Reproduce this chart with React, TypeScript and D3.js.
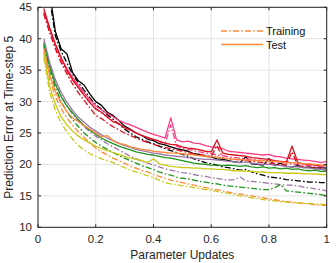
import React, { useEffect, useRef } from "react";
import * as d3 from "d3";

const xs: number[] = d3.range(1, 51).map((i) => +(i * 0.02).toFixed(2));

const seriesNames = ["black", "pink", "red", "purple", "green", "orange", "yellow"];
const seriesColors = ["#000000", "#ff3d86", "#d8101c", "#9c78a8", "#1f951f", "#ff8a3a", "#c9c817"];

const blackTest = [55, 47.5, 41.2, 38.4, 37.6, 34.6, 33.3, 32.6, 31.2, 30.0, 29.4, 28.3, 27.8, 27.0, 26.1, 25.6, 25.0, 24.6, 24.0, 23.8, 23.3, 23.1, 22.8, 22.5, 22.3, 22.1, 21.7, 21.6, 21.3, 21.2, 20.9, 20.8, 20.6, 20.4, 20.3, 21.2, 20.1, 20.0, 19.9, 20.9, 19.8, 20.2, 19.7, 19.6, 19.8, 19.5, 19.6, 19.4, 19.5, 19.4];
const blackTrain = [54, 46.5, 40.5, 38.0, 36.2, 34.3, 33.0, 31.8, 30.6, 29.5, 28.8, 27.9, 27.2, 26.4, 25.6, 25.0, 24.4, 24.0, 23.6, 23.3, 22.9, 22.5, 22.2, 21.9, 21.6, 21.3, 20.9, 20.6, 20.3, 20.1, 19.9, 19.6, 19.5, 19.3, 19.1, 19.2, 18.8, 18.5, 18.3, 18.0, 17.9, 17.8, 17.6, 17.5, 17.4, 17.3, 17.2, 17.2, 17.1, 17.1];
const pinkTest = [44.3, 41.6, 39.0, 36.9, 35.3, 33.8, 32.6, 31.4, 30.3, 29.3, 28.7, 28.1, 27.6, 27.0, 26.6, 26.3, 25.9, 25.5, 25.1, 24.8, 24.5, 24.2, 27.4, 23.9, 23.6, 23.7, 23.4, 23.3, 23.0, 22.8, 22.7, 22.5, 22.1, 22.0, 21.9, 21.8, 21.7, 21.6, 21.5, 21.6, 21.3, 21.2, 21.0, 20.9, 20.8, 20.7, 20.6, 20.5, 20.3, 20.5];
const pinkTrain = [44.0, 41.2, 38.6, 36.5, 34.9, 33.4, 32.2, 31.0, 29.9, 28.9, 28.2, 27.6, 27.0, 26.4, 25.9, 25.4, 25.0, 24.6, 24.2, 23.9, 23.6, 23.3, 26.3, 22.9, 22.6, 22.4, 22.2, 22.0, 21.8, 21.7, 21.5, 21.4, 21.2, 21.1, 21.0, 20.9, 20.8, 20.7, 20.6, 20.5, 20.4, 20.3, 20.2, 20.1, 20.0, 19.9, 19.8, 19.7, 19.6, 19.6];
const redTest = [44.8, 41.8, 39.2, 37.0, 35.0, 33.5, 32.2, 31.0, 29.8, 28.8, 28.3, 27.5, 26.8, 26.5, 25.8, 25.5, 25.0, 24.6, 24.3, 24.0, 23.7, 23.4, 23.2, 23.1, 22.8, 22.6, 22.5, 22.3, 22.1, 22.0, 23.9, 21.8, 21.6, 21.5, 21.4, 21.3, 21.1, 21.0, 20.9, 20.8, 20.6, 20.5, 20.4, 22.9, 20.3, 20.1, 20.0, 19.9, 19.8, 19.8];
const redTrain = [44.0, 41.0, 38.4, 36.2, 34.4, 32.8, 31.4, 30.2, 29.0, 27.8, 27.3, 26.6, 26.0, 25.5, 25.0, 24.6, 24.2, 23.8, 23.5, 23.2, 22.9, 22.7, 22.5, 22.3, 22.1, 21.9, 21.7, 21.6, 21.4, 21.3, 23.0, 21.0, 20.9, 20.8, 20.7, 20.6, 20.5, 20.4, 20.3, 20.2, 20.1, 20.0, 19.9, 22.0, 19.8, 19.6, 19.5, 19.4, 19.3, 19.1];
const purpleTest = [40.0, 36.3, 33.5, 31.5, 29.9, 28.6, 27.5, 26.7, 25.9, 25.3, 24.7, 24.2, 23.8, 23.4, 23.0, 22.7, 22.4, 22.2, 22.0, 21.8, 21.7, 21.5, 21.4, 21.3, 21.2, 21.1, 21.0, 20.9, 20.8, 20.8, 20.7, 20.6, 20.5, 20.4, 20.3, 20.4, 20.2, 20.1, 20.0, 20.0, 19.9, 19.8, 19.7, 19.6, 19.6, 19.5, 19.4, 19.3, 19.2, 19.1];
const purpleTrain = [39.5, 35.8, 33.0, 31.0, 29.3, 28.0, 26.9, 26.0, 25.2, 24.5, 23.9, 23.3, 22.8, 22.3, 21.8, 21.3, 20.9, 20.5, 20.2, 19.9, 19.6, 19.3, 19.1, 18.9, 18.7, 18.6, 18.4, 18.2, 18.1, 17.9, 17.8, 17.6, 17.5, 17.6, 18.0, 17.4, 17.3, 17.2, 17.1, 17.0, 16.9, 16.8, 16.7, 16.7, 16.6, 16.4, 16.3, 16.1, 16.0, 15.8];
const greenTest = [39.2, 35.6, 32.8, 30.8, 29.3, 28.2, 27.1, 26.2, 25.4, 24.8, 24.2, 23.7, 23.3, 22.9, 22.6, 22.3, 22.0, 21.8, 21.6, 21.5, 21.3, 21.1, 21.0, 20.8, 20.6, 20.4, 20.2, 20.1, 20.0, 19.9, 19.9, 19.8, 19.9, 19.8, 19.7, 19.8, 19.6, 19.5, 19.6, 19.4, 19.5, 19.3, 19.4, 19.2, 19.3, 19.1, 19.0, 19.1, 18.9, 18.9];
const greenTrain = [38.8, 35.0, 32.2, 30.0, 28.4, 27.1, 26.0, 25.0, 24.2, 23.5, 22.9, 22.4, 21.9, 21.4, 21.0, 20.6, 20.2, 19.8, 19.5, 19.2, 18.8, 18.5, 18.3, 18.0, 17.8, 17.7, 17.5, 17.3, 17.2, 17.0, 16.9, 16.7, 16.6, 16.5, 16.4, 16.3, 16.2, 16.1, 16.0, 16.0, 16.3, 16.8, 15.8, 15.7, 15.6, 15.5, 15.4, 15.3, 15.2, 15.0];
const orangeTest = [38.5, 34.3, 31.6, 29.8, 28.4, 27.4, 26.8, 26.2, 25.6, 25.0, 24.4, 24.6, 23.8, 23.3, 23.2, 22.8, 22.6, 22.4, 22.3, 22.1, 22.0, 21.9, 21.8, 21.8, 21.7, 21.6, 21.5, 21.4, 21.3, 21.2, 21.2, 21.0, 20.9, 20.8, 20.8, 20.7, 20.7, 20.6, 20.6, 20.5, 20.5, 20.4, 20.3, 20.3, 20.2, 20.1, 20.1, 20.0, 19.9, 19.9];
const orangeTrain = [38.0, 33.6, 30.8, 28.9, 27.4, 26.2, 25.2, 24.3, 23.4, 22.6, 22.0, 21.5, 21.0, 20.6, 20.2, 19.7, 19.4, 19.0, 18.8, 18.4, 18.1, 17.8, 17.5, 17.3, 17.1, 16.9, 16.7, 16.5, 16.3, 16.1, 16.0, 15.8, 15.6, 15.4, 15.3, 15.1, 15.0, 14.8, 14.7, 14.5, 14.4, 14.2, 14.1, 14.0, 13.9, 13.8, 13.7, 13.6, 13.5, 13.5];
const yellowTest = [37.6, 32.5, 29.6, 27.6, 26.3, 25.3, 24.5, 23.9, 23.4, 22.9, 22.5, 22.2, 21.9, 21.6, 21.3, 21.0, 20.8, 20.6, 20.3, 20.9, 20.1, 19.9, 19.7, 19.6, 19.5, 19.5, 19.4, 19.4, 19.3, 19.3, 19.2, 19.2, 19.1, 19.0, 19.0, 18.9, 18.9, 18.8, 18.8, 18.7, 18.7, 18.7, 18.6, 18.6, 18.6, 18.5, 18.5, 18.5, 18.4, 18.4];
const yellowTrain = [37.0, 31.6, 28.6, 26.6, 25.2, 24.0, 23.0, 22.3, 21.7, 21.3, 20.9, 20.6, 20.3, 19.9, 19.5, 19.1, 18.8, 18.5, 18.2, 17.9, 17.5, 17.1, 16.9, 16.8, 16.6, 16.5, 16.3, 16.2, 16.0, 15.9, 15.7, 15.5, 15.4, 15.2, 15.0, 14.9, 14.7, 14.6, 14.4, 14.3, 14.2, 14.1, 14.0, 13.9, 13.9, 13.8, 13.8, 13.7, 13.7, 13.6];

const trainSeries = [blackTrain, pinkTrain, redTrain, purpleTrain, greenTrain, orangeTrain, yellowTrain];
const testSeries = [blackTest, pinkTest, redTest, purpleTest, greenTest, orangeTest, yellowTest];

const xTicks = [0, 0.2, 0.4, 0.6, 0.8, 1];
const yTicks = [10, 15, 20, 25, 30, 35, 40, 45];
const legendLabels = ["Training", "Test"];

const W = 336;
const H = 263;
const M = { left: 38, right: 9.3, top: 7.3, bottom: 35.7 };
const FONT = "Liberation Sans, Arial, sans-serif";
const DASHDOT = "6,2.2,1.6,2.2";

export default function App() {
  const ref = useRef<SVGSVGElement | null>(null);

  useEffect(() => {
    const svg = d3.select(ref.current);
    svg.selectAll("*").remove();

    const x = d3.scaleLinear().domain([0, 1]).range([M.left, W - M.right]);
    const y = d3.scaleLinear().domain([10, 45]).range([H - M.bottom, M.top]);

    svg.append("rect").attr("width", W).attr("height", H).attr("fill", "#fff");

    svg.append("defs").append("clipPath").attr("id", "plotclip")
      .append("rect")
      .attr("x", x(0)).attr("y", y(45))
      .attr("width", x(1) - x(0)).attr("height", y(10) - y(45));

    // grid
    const grid = svg.append("g");
    xTicks.forEach((t) => {
      grid.append("line").attr("x1", x(t)).attr("x2", x(t)).attr("y1", y(10)).attr("y2", y(45))
        .attr("stroke", "#e3e3e3").attr("stroke-width", 1);
    });
    yTicks.forEach((t) => {
      grid.append("line").attr("x1", x(0)).attr("x2", x(1)).attr("y1", y(t)).attr("y2", y(t))
        .attr("stroke", "#e3e3e3").attr("stroke-width", 1);
    });

    const line = d3.line<number>().x((_, i) => x(xs[i])).y((d) => y(d));

    const lines = svg.append("g").attr("clip-path", "url(#plotclip)");
    seriesNames.forEach((_, k) => {
      lines.append("path").datum(trainSeries[k])
        .attr("d", line as any)
        .attr("fill", "none").attr("stroke", seriesColors[k])
        .attr("stroke-width", 1.3).attr("stroke-dasharray", DASHDOT)
        .attr("stroke-linejoin", "round");
      lines.append("path").datum(testSeries[k])
        .attr("d", line as any)
        .attr("fill", "none").attr("stroke", seriesColors[k])
        .attr("stroke-width", 1.3).attr("stroke-linejoin", "round");
    });

    // axes box
    const axisColor = "#262626";
    svg.append("rect").attr("x", x(0)).attr("y", y(45))
      .attr("width", x(1) - x(0)).attr("height", y(10) - y(45))
      .attr("fill", "none").attr("stroke", axisColor).attr("stroke-width", 1);

    const tickLen = 3;
    const axes = svg.append("g");
    xTicks.forEach((t) => {
      axes.append("line").attr("x1", x(t)).attr("x2", x(t)).attr("y1", y(10)).attr("y2", y(10) - tickLen)
        .attr("stroke", axisColor);
      axes.append("line").attr("x1", x(t)).attr("x2", x(t)).attr("y1", y(45)).attr("y2", y(45) + tickLen)
        .attr("stroke", axisColor);
      axes.append("text").attr("x", x(t)).attr("y", y(10) + 16)
        .attr("text-anchor", "middle").attr("font-family", FONT).attr("font-size", 11.5)
        .attr("fill", "#262626").text(d3.format("~g")(t));
    });
    yTicks.forEach((t) => {
      axes.append("line").attr("x1", x(0)).attr("x2", x(0) + tickLen).attr("y1", y(t)).attr("y2", y(t))
        .attr("stroke", axisColor);
      axes.append("line").attr("x1", x(1)).attr("x2", x(1) - tickLen).attr("y1", y(t)).attr("y2", y(t))
        .attr("stroke", axisColor);
      axes.append("text").attr("x", x(0) - 6).attr("y", y(t) + 4)
        .attr("text-anchor", "end").attr("font-family", FONT).attr("font-size", 11.5)
        .attr("fill", "#262626").text(String(t));
    });

    svg.append("text").attr("x", (x(0) + x(1)) / 2).attr("y", 259)
      .attr("text-anchor", "middle").attr("font-family", FONT).attr("font-size", 12)
      .attr("fill", "#262626").text("Parameter Updates");
    svg.append("text")
      .attr("transform", `translate(13,${(y(10) + y(45)) / 2}) rotate(-90)`)
      .attr("text-anchor", "middle").attr("font-family", FONT).attr("font-size", 12)
      .attr("fill", "#262626").text("Prediction Error at Time-step 5");

    // legend
    const leg = svg.append("g");
    legendLabels.forEach((lab, i) => {
      const ly = 31 + i * 13.5;
      leg.append("line").attr("x1", 221).attr("x2", 263).attr("y1", ly).attr("y2", ly)
        .attr("stroke", seriesColors[5]).attr("stroke-width", 1.4)
        .attr("stroke-dasharray", i === 0 ? DASHDOT : null);
      leg.append("text").attr("x", 266).attr("y", ly + 4)
        .attr("font-family", FONT).attr("font-size", 11)
        .attr("fill", "#111").text(lab);
    });
  }, []);

  return (
    <svg ref={ref} width={W} height={H}
      style={{ position: "absolute", left: 0, top: 0, display: "block" }} />
  );
}
